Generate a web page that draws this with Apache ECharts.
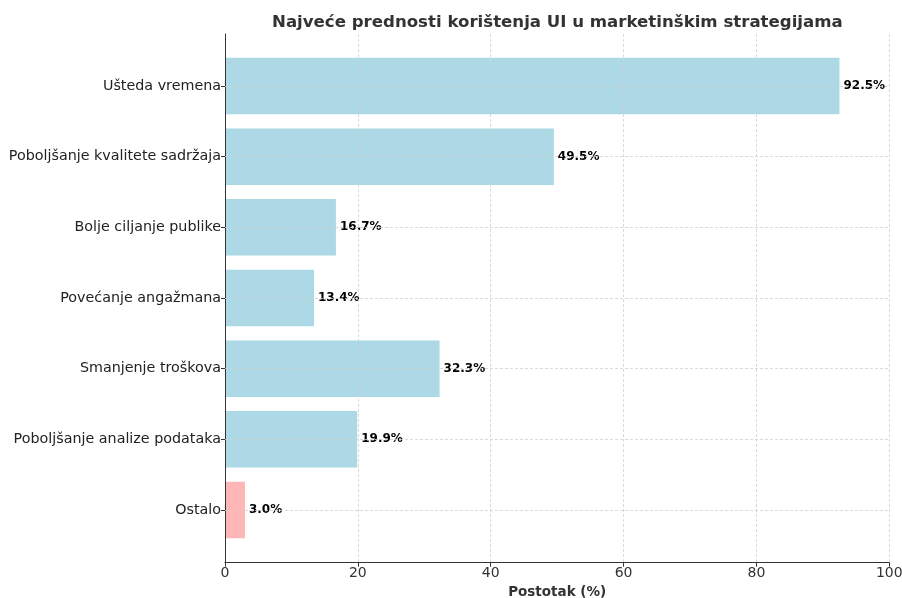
<!DOCTYPE html>
<html><head><meta charset="utf-8">
<script src="https://cdn.jsdelivr.net/npm/echarts@6/dist/echarts.min.js"></script>
<style>html,body{margin:0;padding:0;background:#fff}#c{width:902px;height:598px}</style>
</head><body><div id="c"></div>
<script>
const categories = ['Ušteda vremena','Poboljšanje kvalitete sadržaja','Bolje ciljanje publike','Povećanje angažmana','Smanjenje troškova','Poboljšanje analize podataka','Ostalo'];
const values = [92.5, 49.5, 16.7, 13.4, 32.3, 19.9, 3.0];
const barColors = ['#ADD8E6','#ADD8E6','#ADD8E6','#ADD8E6','#ADD8E6','#ADD8E6','#FFB6B6'];
const xTicks = [0,20,40,60,80,100];
const titleText = 'Najveće prednosti korištenja UI u marketinškim strategijama';
const xName = 'Postotak (%)';

const FONT = 'DejaVu Sans';
const chart = echarts.init(document.getElementById('c'), null, {renderer:'canvas'});
const gridLine = {show:true, lineStyle:{color:'#d0d0d0', type:[3,2], width:0.8}};
chart.setOption({
  animation:false,
  backgroundColor:'#fff',
  title:{text:titleText, left:267, top:9,
    textStyle:{fontFamily:FONT, fontSize:16.6, fontWeight:'bold', color:'#333'}},
  grid:[
    {left:225, right:12.7, top:34, bottom:35.3, outerBoundsMode:'none', containLabel:false},
    {left:225, right:12.7, top:50.7, bottom:52.7, outerBoundsMode:'none', containLabel:false}
  ],
  xAxis:[
    {gridIndex:0, type:'value', min:xTicks[0], max:xTicks[xTicks.length-1], interval:20,
     axisLine:{show:true, lineStyle:{color:'#333', width:1}},
     axisTick:{show:true, length:4, lineStyle:{color:'#333'}},
     axisLabel:{fontFamily:FONT, fontSize:14, color:'#333', margin:4},
     splitLine:gridLine,
     name:xName, nameLocation:'middle', nameGap:23,
     nameTextStyle:{fontFamily:FONT, fontSize:13.5, fontWeight:'bold', color:'#333'}},
    {gridIndex:1, type:'value', min:0, max:100, show:false}
  ],
  yAxis:[
    {gridIndex:0, type:'value', min:0, max:1, axisLine:{show:true, lineStyle:{color:'#333', width:1}},
     axisTick:{show:false}, axisLabel:{show:false}, splitLine:{show:false}},
    {gridIndex:1, type:'category', data:categories, inverse:true,
     axisLine:{show:false},
     axisTick:{show:true, alignWithLabel:true, length:4, lineStyle:{color:'#333'}},
     axisLabel:{fontFamily:FONT, fontSize:14.3, color:'#222', margin:4},
     splitLine:{show:false}}
  ],
  series:[{
    type:'bar', xAxisIndex:1, yAxisIndex:1, z:-1,
    barWidth:'80%',
    data: values.map((v,i)=>({value:v, itemStyle:{color:barColors[i]}})),
    label:{show:true, position:'right', distance:4, formatter:p=>p.value.toFixed(1)+'%',
      fontFamily:FONT, fontSize:12, fontWeight:'bold', color:'#000'},
    markLine:{silent:true, symbol:'none', z:3, label:{show:false},
      lineStyle:{color:'#d0d0d0', type:[3,2], width:0.8},
      data: categories.map(c=>({yAxis:c}))}
  }]
});
</script></body></html>
